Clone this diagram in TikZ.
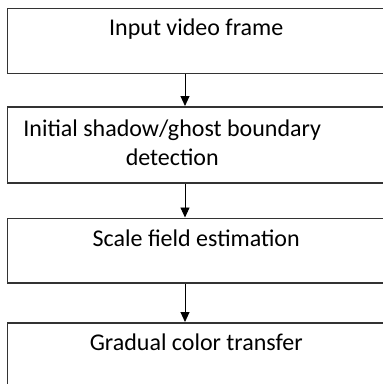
\documentclass[tikz,border=0pt]{standalone}
\usepackage{fontspec}
\setmainfont{Carlito}
\usetikzlibrary{arrows.meta,positioning}
\tikzset{
  stage/.style={draw=black!80, line width=1.8pt, minimum width=377.5pt, minimum height=65pt, anchor=north, inner sep=0pt},
  caption/.style={font=\fontsize{24}{29.7}\selectfont, inner sep=0pt, anchor=base},
  flow/.style={-{Triangle[length=10pt,width=9pt]}, line width=0.9pt},
}
\begin{document}
\begin{tikzpicture}[x=1pt,y=-1pt]
\useasboundingbox (0,0) rectangle (383,384);
\clip (0,0) rectangle (383,384);
% boxes of the chain
\node[stage] (frame) at (196.25,7.5) {};
\node[stage, minimum height=76pt] (shadow) at (196.25,106) {};
\node[stage, minimum height=64.5pt] (scale) at (196.25,217.5) {};
\node[stage] (transfer) at (196.25,322) {};
% texts
\node[caption] (frametxt) at ([yshift=-27.5pt]frame.north) {Input video frame};
\node[caption, align=center] (shadowtxt) at ([xshift=-24pt,yshift=-59.7pt]shadow.north) {Initial shadow/ghost boundary\\detection};
\node[caption] (scaletxt) at ([yshift=-29.2pt]scale.north) {Scale field estimation};
\node[caption] (transfertxt) at ([yshift=-28pt]transfer.north) {Gradual color transfer};
% arrows
\coordinate (axis) at (185,0);
\draw[flow] (frame.south -| axis) -- (shadow.north -| axis);
\draw[flow] (shadow.south -| axis) -- (scale.north -| axis);
\draw[flow] (scale.south -| axis) -- (transfer.north -| axis);
\end{tikzpicture}
\end{document}
